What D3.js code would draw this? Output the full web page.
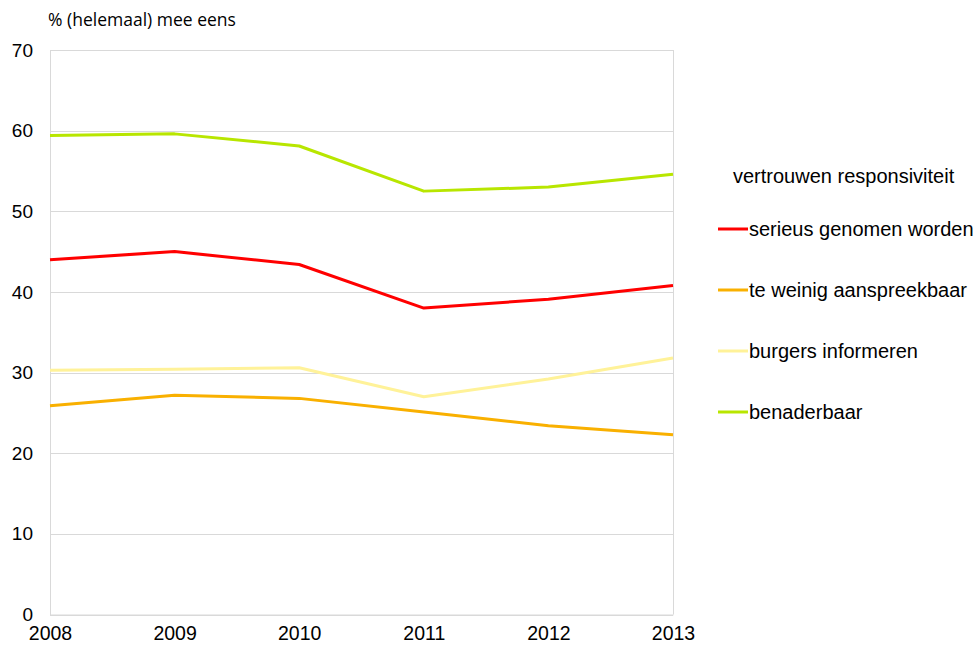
<!DOCTYPE html>
<html><head><meta charset="utf-8">
<script src="https://cdn.jsdelivr.net/npm/d3@7"></script>
<style>body{margin:0;background:#fff;}</style>
</head><body>
<svg id="c" width="979" height="646"></svg>
<script>
const years = [2008, 2009, 2010, 2011, 2012, 2013];
const yTicks = [0, 10, 20, 30, 40, 50, 60, 70];
const seriesNames = ["serieus genomen worden", "te weinig aanspreekbaar", "burgers informeren", "benaderbaar"];
const seriesColors = ["#FF0000", "#F9B000", "#FFF299", "#B8E600"];
const serieus = [44.0, 45.0, 43.4, 38.0, 39.1, 40.8];
const teWeinig = [25.9, 27.2, 26.8, 25.1, 23.4, 22.3];
const burgers = [30.3, 30.4, 30.6, 27.0, 29.2, 31.8];
const benaderbaar = [59.4, 59.6, 58.1, 52.5, 53.0, 54.6];
const seriesValues = [serieus, teWeinig, burgers, benaderbaar];
const legendTitle = "vertrouwen responsiviteit";
const yTitle = "% (helemaal) mee eens";

const svg = d3.select("#c");
const L = 50, R = 673, T = 50, B = 614.5;
const x = d3.scaleLinear().domain([2008, 2013]).range([L, R]);
const y = d3.scaleLinear().domain([0, 70]).range([B, T]);
const FONT = "Liberation Sans, Arial, sans-serif";

// gridlines
svg.append("g").selectAll("line").data(yTicks).join("line")
  .attr("x1", L).attr("x2", R)
  .attr("y1", d => Math.round(y(d)) + 0.5).attr("y2", d => Math.round(y(d)) + 0.5)
  .attr("stroke", "#D9D9D9").attr("stroke-width", 1);
// right border
svg.append("line").attr("x1", R + 0.5).attr("x2", R + 0.5).attr("y1", T).attr("y2", B)
  .attr("stroke", "#D9D9D9");

// y axis
const yAxis = svg.append("g").attr("transform", `translate(${L},0)`)
  .call(d3.axisLeft(y).tickValues(yTicks).tickSize(0).tickPadding(17));
yAxis.select(".domain").attr("stroke", "#D9D9D9");
yAxis.selectAll("text").attr("font-family", FONT)
  .attr("font-size", 19).attr("fill", "#000");

// x axis
const xAxis = svg.append("g").attr("transform", `translate(0,${B})`)
  .call(d3.axisBottom(x).tickValues(years).tickFormat(d3.format("d")).tickSize(0).tickPadding(12));
xAxis.select(".domain").attr("stroke", "#D9D9D9");
xAxis.selectAll("text").attr("font-family", FONT)
  .attr("font-size", 19.5).attr("fill", "#000");

// y title
svg.append("text").attr("x", 48).attr("y", 26).text(yTitle)
  .attr("font-family", "Open Sans, sans-serif").attr("font-size", 17.5).attr("fill", "#000");

// lines
const line = d3.line().x((d, i) => x(years[i])).y(d => y(d));
const order = [2, 1, 0, 3];
svg.append("g").selectAll("path").data(order).join("path")
  .attr("d", i => line(seriesValues[i]))
  .attr("fill", "none").attr("stroke", i => seriesColors[i])
  .attr("stroke-width", 3).attr("stroke-linejoin", "round");

// legend
svg.append("text").attr("x", 733).attr("y", 183).text(legendTitle)
  .attr("font-family", FONT).attr("font-size", 20).attr("fill", "#000");
const lg = svg.append("g").selectAll("g").data(seriesNames).join("g")
  .attr("transform", (d, i) => `translate(718,${229 + i * 61})`);
lg.append("line").attr("x1", 0).attr("x2", 30).attr("y1", 0).attr("y2", 0)
  .attr("stroke", (d, i) => seriesColors[i]).attr("stroke-width", 3);
lg.append("text").attr("x", 31).attr("y", 6.5).text(d => d)
  .attr("font-family", FONT).attr("font-size", 20).attr("fill", "#000");
</script>
</body></html>
